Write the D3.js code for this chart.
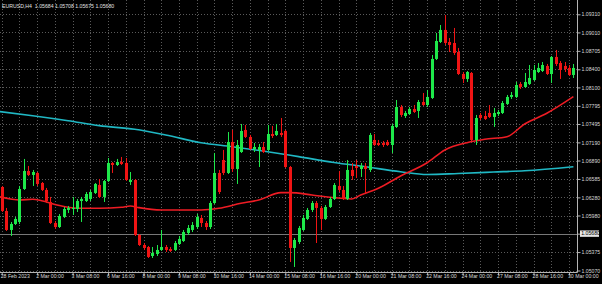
<!DOCTYPE html>
<html>
<head>
<meta charset="utf-8">
<script src="https://cdn.jsdelivr.net/npm/d3@7"></script>
<style>
  html, body { margin: 0; padding: 0; background: #000; }
  svg { display: block; }
  text { font-family: 'Liberation Sans', Arial, sans-serif; }
</style>
</head>
<body>
<script>
var fullWidth = 602
var fullHeight = 284
var plotRight = 577
var plotBottom = 272

var title = 'EURUSD,H4  1.05684 1.05708 1.05675 1.05680'
var bidPrice = 1.05680

// x labels sit every 8th H4 bar
var labelBars = [0, 8, 16, 24, 32, 40, 48, 56, 64, 72, 80, 88, 96, 104, 112, 120, 128]
var tickLabels = ['28 Feb 2023', '2 Mar 00:00', '3 Mar 08:00', '6 Mar 16:00', '8 Mar 00:00',
  '9 Mar 08:00', '10 Mar 16:00', '14 Mar 00:00', '15 Mar 08:00', '16 Mar 16:00',
  '20 Mar 00:00', '21 Mar 08:00', '22 Mar 16:00', '24 Mar 00:00', '27 Mar 08:00',
  '28 Mar 16:00', '30 Mar 00:00']
var priceTicks = [1.09310, 1.09010, 1.08705, 1.08400, 1.08100, 1.07795, 1.07495, 1.07190,
  1.06890, 1.06585, 1.06280, 1.05980, 1.05680, 1.05375, 1.05070]

// candles
var open = [1.06452, 1.06055, 1.05741, 1.05840, 1.05873, 1.06419, 1.06717, 1.06651, 1.06684, 1.06518,
  1.06403, 1.06204, 1.05856, 1.05790, 1.05956, 1.06072, 1.06088, 1.06088, 1.06220, 1.06220,
  1.06254, 1.06353, 1.06485, 1.06287, 1.06551, 1.06849, 1.06816, 1.06866, 1.06849, 1.06535,
  1.06568, 1.05658, 1.05492, 1.05459, 1.05310, 1.05343, 1.05410, 1.05459, 1.05426, 1.05410,
  1.05509, 1.05558, 1.05691, 1.05741, 1.05790, 1.05939, 1.05856, 1.05790, 1.06187, 1.06684,
  1.06899, 1.06684, 1.07197, 1.06750, 1.07031, 1.07396, 1.07280, 1.07081, 1.07065, 1.07114,
  1.07065, 1.07329, 1.07313, 1.07346, 1.07379, 1.06783, 1.05443, 1.05542, 1.05741, 1.05923,
  1.06072, 1.06187, 1.06105, 1.05923, 1.06121, 1.06254, 1.06469, 1.06403, 1.06254, 1.06734,
  1.06800, 1.06750, 1.06800, 1.06734, 1.07230, 1.07180, 1.07180, 1.07197, 1.07147, 1.07445,
  1.07776, 1.07627, 1.07660, 1.07743, 1.07710, 1.07859, 1.07809, 1.07925, 1.08571, 1.08852,
  1.09051, 1.08852, 1.08835, 1.08686, 1.08322, 1.08240, 1.08339, 1.07230, 1.07644, 1.07627,
  1.07677, 1.07611, 1.07660, 1.07677, 1.07826, 1.07942, 1.07942, 1.08157, 1.08107, 1.08157,
  1.08223, 1.08355, 1.08372, 1.08455, 1.08322, 1.08604, 1.08504, 1.08455, 1.08422, 1.08306]
var high = [1.06469, 1.06105, 1.05873, 1.05956, 1.06469, 1.06916, 1.06800, 1.06734, 1.06700, 1.06535,
  1.06436, 1.06287, 1.05889, 1.06005, 1.06121, 1.06138, 1.06287, 1.06254, 1.06287, 1.06369,
  1.06403, 1.06518, 1.06585, 1.06568, 1.06932, 1.06866, 1.06916, 1.06949, 1.06932, 1.06700,
  1.06585, 1.05674, 1.05525, 1.05476, 1.05459, 1.05492, 1.05741, 1.05492, 1.05459, 1.05558,
  1.05641, 1.05741, 1.05823, 1.05873, 1.06005, 1.05989, 1.05889, 1.06220, 1.07015, 1.06734,
  1.07065, 1.07362, 1.07396, 1.07230, 1.07495, 1.07478, 1.07313, 1.07180, 1.07164, 1.07197,
  1.07478, 1.07462, 1.07495, 1.07594, 1.07396, 1.06800, 1.05608, 1.05807, 1.05989, 1.06105,
  1.06220, 1.06220, 1.06138, 1.06154, 1.06287, 1.06518, 1.06717, 1.06469, 1.06899, 1.06849,
  1.06899, 1.06849, 1.06849, 1.07346, 1.07329, 1.07230, 1.07213, 1.07230, 1.07495, 1.07892,
  1.07809, 1.07710, 1.07776, 1.07809, 1.07892, 1.08008, 1.08058, 1.08637, 1.09001, 1.09133,
  1.09299, 1.08918, 1.09084, 1.08753, 1.08355, 1.08372, 1.08355, 1.07644, 1.07677, 1.07710,
  1.07809, 1.07760, 1.07727, 1.07875, 1.07975, 1.08024, 1.08190, 1.08190, 1.08339, 1.08471,
  1.08471, 1.08504, 1.08521, 1.08488, 1.08620, 1.08720, 1.08537, 1.08521, 1.08471, 1.08488]
var low = [1.06038, 1.05724, 1.05641, 1.05823, 1.05840, 1.06403, 1.06634, 1.06469, 1.06469, 1.06386,
  1.06187, 1.05840, 1.05757, 1.05774, 1.05939, 1.06022, 1.05989, 1.06038, 1.05873, 1.06204,
  1.06220, 1.06336, 1.06270, 1.06204, 1.06535, 1.06684, 1.06800, 1.06816, 1.06551, 1.06485,
  1.05641, 1.05476, 1.05410, 1.05277, 1.05277, 1.05310, 1.05393, 1.05376, 1.05376, 1.05393,
  1.05492, 1.05542, 1.05658, 1.05707, 1.05757, 1.05790, 1.05741, 1.05757, 1.06171, 1.06336,
  1.06651, 1.06667, 1.06700, 1.06502, 1.07015, 1.07263, 1.07065, 1.07031, 1.06783, 1.07015,
  1.07048, 1.07263, 1.07296, 1.07280, 1.06767, 1.05211, 1.05128, 1.05509, 1.05724, 1.05906,
  1.06038, 1.05525, 1.05741, 1.05906, 1.06105, 1.06237, 1.06369, 1.06237, 1.06237, 1.06568,
  1.06601, 1.06618, 1.06353, 1.06700, 1.07131, 1.07131, 1.07114, 1.07131, 1.07015, 1.07429,
  1.07611, 1.07594, 1.07644, 1.07677, 1.07594, 1.07793, 1.07776, 1.07909, 1.08554, 1.08835,
  1.08802, 1.08686, 1.08637, 1.08306, 1.08173, 1.08190, 1.07213, 1.07147, 1.07561, 1.07561,
  1.07594, 1.07445, 1.07627, 1.07660, 1.07809, 1.07909, 1.07925, 1.08074, 1.08091, 1.08140,
  1.08206, 1.08339, 1.08355, 1.08306, 1.08173, 1.08455, 1.08240, 1.08355, 1.08289, 1.08256]
var close = [1.06055, 1.05741, 1.05840, 1.05923, 1.06419, 1.06717, 1.06651, 1.06700, 1.06502, 1.06403,
  1.06220, 1.05856, 1.05790, 1.05972, 1.06088, 1.06105, 1.06105, 1.06220, 1.06254, 1.06336,
  1.06369, 1.06502, 1.06287, 1.06551, 1.06849, 1.06816, 1.06866, 1.06833, 1.06568, 1.06568,
  1.05658, 1.05492, 1.05443, 1.05294, 1.05360, 1.05410, 1.05459, 1.05410, 1.05393, 1.05525,
  1.05592, 1.05707, 1.05774, 1.05823, 1.05956, 1.05856, 1.05790, 1.06187, 1.06684, 1.06369,
  1.06684, 1.07197, 1.06750, 1.07147, 1.07379, 1.07280, 1.07081, 1.07114, 1.07114, 1.07031,
  1.07329, 1.07296, 1.07379, 1.07313, 1.06783, 1.05443, 1.05575, 1.05774, 1.05939, 1.06072,
  1.06187, 1.06105, 1.05923, 1.06121, 1.06254, 1.06485, 1.06403, 1.06254, 1.06734, 1.06634,
  1.06767, 1.06800, 1.06750, 1.07313, 1.07147, 1.07147, 1.07147, 1.07147, 1.07462, 1.07776,
  1.07644, 1.07677, 1.07743, 1.07693, 1.07859, 1.07809, 1.07942, 1.08571, 1.08868, 1.09051,
  1.08835, 1.08802, 1.08670, 1.08322, 1.08240, 1.08355, 1.07230, 1.07594, 1.07594, 1.07578,
  1.07611, 1.07677, 1.07693, 1.07842, 1.07942, 1.07975, 1.08140, 1.08107, 1.08190, 1.08256,
  1.08389, 1.08422, 1.08471, 1.08322, 1.08604, 1.08488, 1.08389, 1.08405, 1.08306, 1.08422]

// moving averages, sampled at bar indices
var slowBars = [-1, 7, 15, 22, 30, 37, 45, 52, 60, 67, 75, 82, 90, 96, 103, 111, 118, 129]
var slowMa = [1.07705, 1.07632, 1.07549, 1.07467, 1.07407, 1.07313, 1.07185, 1.07119, 1.07036,
  1.06954, 1.06858, 1.06788, 1.06705, 1.06659, 1.06676, 1.06700, 1.06722, 1.06788]
var fastBars = [-1, 2, 4, 7, 9, 12.5, 17, 22, 27, 29, 31, 36, 45, 49, 54, 58, 63, 65, 70, 74,
  79, 81, 85, 90, 96, 100, 105, 109, 114, 118, 123, 129]
var fastMa = [1.06300, 1.06254, 1.06237, 1.06249, 1.06225, 1.06154, 1.06100, 1.06100, 1.06116,
  1.06138, 1.06110, 1.06072, 1.06072, 1.06100, 1.06182, 1.06237, 1.06358, 1.06358, 1.06320,
  1.06282, 1.06254, 1.06320, 1.06431, 1.06634, 1.06854, 1.07065, 1.07185, 1.07242, 1.07285,
  1.07495, 1.07672, 1.07947]

var svg = d3
  .select('body')
  .append('svg')
  .attr('width', fullWidth)
  .attr('height', fullHeight)
  .style('background', '#000')

var x = d3.scaleLinear().domain([0, 129]).range([1.7, 573.4])
var y = d3.scaleLinear().domain([1.05070, 1.09310]).range([270.5, 14.3])

// dotted grid
var grid = svg.append('g').attr('stroke', '#5a5a5a').attr('stroke-dasharray', '1,2').attr('stroke-width', 1)
grid.selectAll('line.v')
  .data(d3.range(0, 130, 4))
  .join('line')
  .attr('class', 'v')
  .attr('x1', (d) => Math.round(x(d)) + 0.5)
  .attr('x2', (d) => Math.round(x(d)) + 0.5)
  .attr('y1', 0)
  .attr('y2', plotBottom)
grid.selectAll('line.h')
  .data(priceTicks)
  .join('line')
  .attr('class', 'h')
  .attr('x1', 0)
  .attr('x2', plotRight)
  .attr('y1', (d) => Math.round(y(d)) + 0.5)
  .attr('y2', (d) => Math.round(y(d)) + 0.5)

// bid line
svg.append('line')
  .attr('x1', 0).attr('x2', plotRight)
  .attr('y1', Math.round(y(bidPrice)) + 0.5)
  .attr('y2', Math.round(y(bidPrice)) + 0.5)
  .attr('stroke', '#787878')
  .attr('stroke-width', 1)

// moving averages
var maLine = d3.line()
  .x((d) => x(d[0]))
  .y((d) => y(d[1]))
  .curve(d3.curveMonotoneX)

var plot = svg.append('g')
plot.append('path')
  .datum(slowBars.map((b, i) => [b, slowMa[i]]))
  .attr('d', maLine)
  .attr('fill', 'none')
  .attr('stroke', '#20b8c4')
  .attr('stroke-width', 1.6)

plot.append('path')
  .datum(fastBars.map((b, i) => [b, fastMa[i]]))
  .attr('d', maLine)
  .attr('fill', 'none')
  .attr('stroke', '#ee1c24')
  .attr('stroke-width', 1.6)

// candles
var bars = d3.range(open.length).map((i) => ({
  i: i, o: open[i], h: high[i], l: low[i], c: close[i]
}))
var candle = plot.selectAll('g.candle')
  .data(bars)
  .join('g')
  .attr('class', 'candle')
  .attr('fill', (d) => (d.c >= d.o ? '#1ee84a' : '#f01414'))
  .attr('stroke', (d) => (d.c >= d.o ? '#1ee84a' : '#f01414'))

candle.append('line')
  .attr('x1', (d) => Math.round(x(d.i)) + 0.5)
  .attr('x2', (d) => Math.round(x(d.i)) + 0.5)
  .attr('y1', (d) => y(d.h))
  .attr('y2', (d) => y(d.l))
  .attr('stroke-width', 1)

candle.append('rect')
  .attr('x', (d) => Math.round(x(d.i)) - 1)
  .attr('width', 3)
  .attr('y', (d) => y(Math.max(d.o, d.c)))
  .attr('height', (d) => Math.max(1, Math.abs(y(d.o) - y(d.c))))
  .attr('stroke', 'none')

// frame
svg.append('path')
  .attr('d', 'M0,' + (plotBottom + 0.5) + 'H' + (plotRight + 0.5) + 'V0')
  .attr('fill', 'none')
  .attr('stroke', '#b4b4b4')

// price axis
var yAxis = svg.append('g')
  .attr('transform', 'translate(' + (plotRight + 0.5) + ',0)')
  .call(d3.axisRight(y).tickValues(priceTicks).tickSize(3).tickPadding(1).tickFormat(d3.format('.5f')))
yAxis.select('.domain').remove()
yAxis.selectAll('line').attr('stroke', '#b4b4b4')
yAxis.selectAll('text')
  .attr('fill', '#d8d8d8')
  .style('font-size', '5.2px')
yAxis.selectAll('.tick')
  .filter((d) => d === bidPrice)
  .select('text').remove()

// bid label box
var bidG = svg.append('g').attr('transform', 'translate(580,' + y(bidPrice) + ')')
bidG.append('rect')
  .attr('x', 0).attr('y', -3.2)
  .attr('width', 19).attr('height', 6.4)
  .attr('fill', '#e6e6e6')
bidG.append('text')
  .attr('x', 1.2).attr('dy', '0.35em')
  .attr('fill', '#000')
  .style('font-size', '5.2px')
  .text(d3.format('.5f')(bidPrice))

// time axis
var xAxis = svg.append('g')
  .attr('transform', 'translate(0,' + (plotBottom + 0.5) + ')')
  .call(d3.axisBottom(x).tickValues(labelBars).tickSize(3).tickFormat((d, i) => tickLabels[i]))
xAxis.select('.domain').remove()
xAxis.selectAll('line').attr('stroke', '#b4b4b4')
xAxis.selectAll('text')
  .attr('fill', '#d8d8d8')
  .attr('text-anchor', 'start')
  .attr('x', -1.5)
  .attr('y', 2)
  .style('font-size', '5.2px')

// symbol header
svg.append('text')
  .attr('x', 2)
  .attr('y', 8)
  .attr('fill', '#e0e0e0')
  .style('font-size', '5.2px')
  .style('white-space', 'pre')
  .text(title)
</script>
</body>
</html>
